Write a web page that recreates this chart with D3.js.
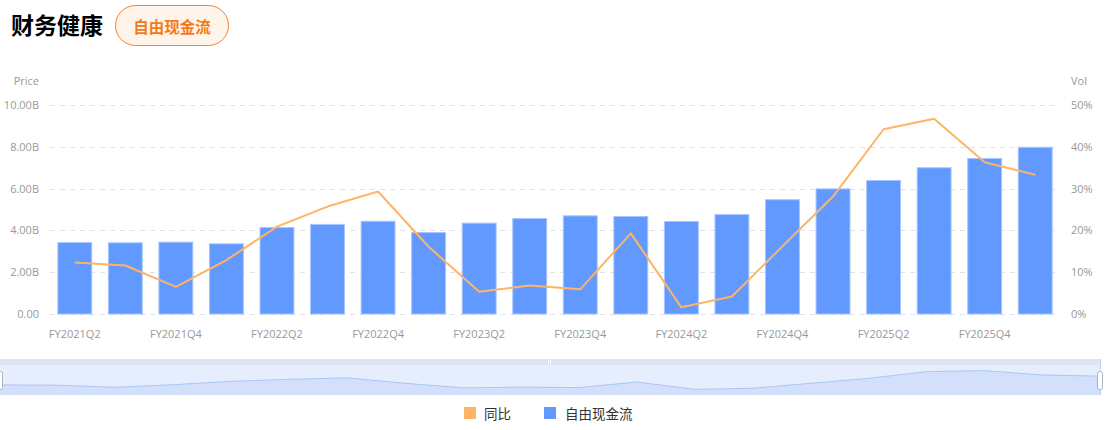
<!DOCTYPE html>
<html><head><meta charset="utf-8">
<script src="https://cdn.jsdelivr.net/npm/d3@7/dist/d3.min.js"></script>
<style>
body{margin:0;background:#fff;}
svg{display:block;font-family:"Open Sans","Noto Sans CJK SC",sans-serif;}
</style></head>
<body><svg id="c" width="1107" height="430"></svg>
<script>
const quarters = ["FY2021Q2","FY2021Q3","FY2021Q4","FY2022Q1","FY2022Q2","FY2022Q3","FY2022Q4","FY2023Q1","FY2023Q2","FY2023Q3","FY2023Q4","FY2024Q1","FY2024Q2","FY2024Q3","FY2024Q4","FY2025Q1","FY2025Q2","FY2025Q3","FY2025Q4","FY2026Q1"];
const freeCashFlow = [3.44,3.43,3.46,3.38,4.16,4.31,4.46,3.92,4.37,4.59,4.72,4.69,4.45,4.78,5.49,6.01,6.41,7.02,7.46,8.00]; // billions
const yoyGrowth = [12.3,11.6,6.5,12.9,20.9,25.7,29.3,16.1,5.3,6.8,5.9,19.3,1.6,4.2,16.2,28.1,44.2,46.7,36.3,33.3]; // percent
const leftTicks = [0,2,4,6,8,10];
const rightTicks = [0,10,20,30,40,50];
const seriesNames = ["同比","自由现金流"];

const svg = d3.select("#c");
const orange = "#ffb465", blue = "#6199ff";

// Title
svg.append("text").attr("x",11).attr("y",34).attr("font-family","'Noto Sans CJK SC',sans-serif")
  .attr("font-size",23).attr("font-weight","bold").attr("fill","#000").text("财务健康");
svg.append("rect").attr("x",115.5).attr("y",5.5).attr("width",113).attr("height",40).attr("rx",20)
  .attr("fill","#fff4ea").attr("stroke","#f5832a").attr("stroke-width",1);
svg.append("text").attr("x",172).attr("y",26).attr("dominant-baseline","central").attr("text-anchor","middle")
  .attr("font-family","'Noto Sans CJK SC',sans-serif").attr("font-size",15.5).attr("font-weight","bold")
  .attr("fill","#f57a16").text("自由现金流");

// Scales
const x = d3.scaleBand().domain(quarters).range([49.5,1060.5]).paddingInner(0.31).paddingOuter(0.155);
const y = d3.scaleLinear().domain([0,10]).range([314,105]);
const y2 = d3.scaleLinear().domain([0,50]).range([314,105]);

// Grid
svg.append("g").selectAll("line").data(leftTicks).join("line")
  .attr("x1",50).attr("x2",1060).attr("y1",d=>Math.round(y(d))+0.5).attr("y2",d=>Math.round(y(d))+0.5)
  .attr("stroke","#e0e1ea").attr("stroke-dasharray","5,5");

// Left axis
const la = svg.append("g").attr("transform","translate(40,0)")
  .call(d3.axisLeft(y).tickValues(leftTicks).tickSize(0).tickPadding(1)
    .tickFormat(d=>d===0?"0.00":d3.format(".2f")(d)+"B"));
la.select(".domain").remove();
la.selectAll("text").attr("fill","#999").attr("font-size",11).attr("font-family","'Open Sans',sans-serif");
svg.append("text").attr("x",39).attr("y",80).attr("dominant-baseline","central").attr("text-anchor","end")
  .attr("fill","#999").attr("font-size",11).text("Price");

// Right axis
const ra = svg.append("g").attr("transform","translate(1070,0)")
  .call(d3.axisRight(y2).tickValues(rightTicks).tickSize(0).tickPadding(1).tickFormat(d=>d+"%"));
ra.select(".domain").remove();
ra.selectAll("text").attr("fill","#999").attr("font-size",11).attr("font-family","'Open Sans',sans-serif");
svg.append("text").attr("x",1071).attr("y",80).attr("dominant-baseline","central").attr("text-anchor","start")
  .attr("fill","#999").attr("font-size",11).text("Vol");

// X axis labels
const xa = svg.append("g").attr("transform","translate(0,326)")
  .call(d3.axisBottom(x).tickValues(quarters.filter((d,i)=>i%2===0)).tickSize(0).tickPadding(4));
xa.select(".domain").remove();
xa.selectAll("text").attr("fill","#999").attr("font-size",11).attr("font-family","'Open Sans',sans-serif");

// Bars
svg.append("g").selectAll("rect").data(freeCashFlow).join("rect")
  .attr("x",(d,i)=>x(quarters[i])+0.5).attr("width",x.bandwidth()-1)
  .attr("y",d=>y(d)+0.5).attr("height",d=>y(0)-y(d)-0.5)
  .attr("fill",blue).attr("stroke","#a6c4ff").attr("stroke-width",1);

// Line
const line = d3.line().x((d,i)=>x(quarters[i])+x.bandwidth()/2).y(d=>y2(d));
svg.append("path").datum(yoyGrowth).attr("d",line).attr("fill","none")
  .attr("stroke",orange).attr("stroke-width",2).attr("stroke-linejoin","round");

// Data zoom slider
const sx = d3.scalePoint().domain(quarters).range([0,1100]);
const ext = d3.extent(yoyGrowth), off = (ext[1]-ext[0])*0.3;
const sy = d3.scaleLinear().domain([ext[0]-off, ext[1]+off]).range([395,365]);
svg.append("rect").attr("x",0).attr("y",359).attr("width",1100).attr("height",6).attr("fill","#dde4f2");
svg.append("rect").attr("x",0).attr("y",365).attr("width",1100).attr("height",30).attr("fill","#e6edfd");
const area = d3.area().x((d,i)=>sx(quarters[i])).y0(395).y1(d=>sy(d));
svg.append("path").datum(yoyGrowth).attr("d",area).attr("fill","#d3e0fb");
svg.append("path").datum(yoyGrowth).attr("d",d3.line().x((d,i)=>sx(quarters[i])).y(d=>sy(d)))
  .attr("fill","none").attr("stroke","#aac6f7").attr("stroke-width",1);
svg.append("line").attr("x1",1100.5).attr("x2",1100.5).attr("y1",359).attr("y2",395).attr("stroke","#c5cfe6");
svg.append("line").attr("x1",548.5).attr("x2",548.5).attr("y1",360).attr("y2",364).attr("stroke","#fff");
svg.append("line").attr("x1",550.5).attr("x2",550.5).attr("y1",360).attr("y2",364).attr("stroke","#fff");
[[-3,371],[1097,371]].forEach(([hx,hy])=>{
  svg.append("rect").attr("x",hx+0.5).attr("y",hy+0.5).attr("width",5).attr("height",18).attr("rx",2)
    .attr("fill","#fff").attr("stroke","#aab3c4");
});

// Legend
const leg = svg.append("g").attr("font-family","'Noto Sans CJK SC',sans-serif");
[[464,484,orange,seriesNames[0]],[544,565,blue,seriesNames[1]]].forEach(([sqx,tx,col,name])=>{
  leg.append("rect").attr("x",sqx).attr("y",407).attr("width",12).attr("height",12).attr("fill",col);
  leg.append("text").attr("x",tx).attr("y",413).attr("dominant-baseline","central")
    .attr("font-size",13.5).attr("fill","#333").text(name);
});
</script></body></html>
